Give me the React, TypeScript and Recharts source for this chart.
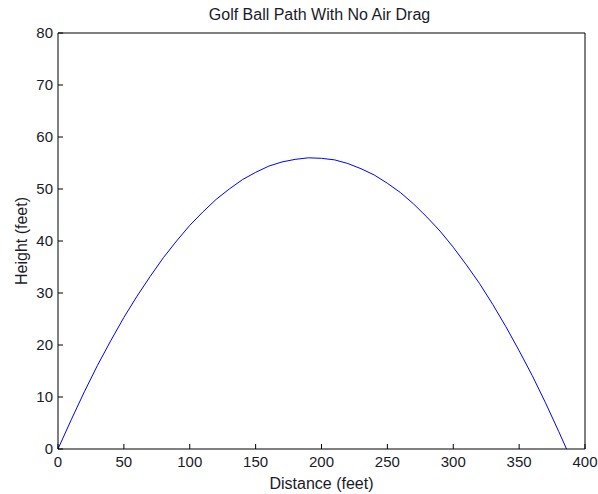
import React from "react";
import { LineChart, Line, XAxis, YAxis, Label } from "recharts";

const distanceFeet = [0, 10, 20, 30, 40, 50, 60, 70, 80, 90, 100, 110, 120, 130, 140, 150, 160, 170, 180, 190, 200, 210, 220, 230, 240, 250, 260, 270, 280, 290, 300, 310, 320, 330, 340, 350, 360, 370, 380, 386];
const heightFeet = [0, 5.6, 11.0, 16.1, 20.8, 25.3, 29.4, 33.2, 36.8, 40.0, 43.0, 45.6, 48.0, 50.0, 51.8, 53.2, 54.4, 55.2, 55.7, 56.0, 55.9, 55.6, 54.9, 53.9, 52.7, 51.1, 49.3, 47.1, 44.6, 41.9, 38.8, 35.4, 31.8, 27.8, 23.5, 18.9, 14.1, 8.9, 3.4, 0];
const xTicks = [0, 50, 100, 150, 200, 250, 300, 350, 400];
const yTicks = [0, 10, 20, 30, 40, 50, 60, 70, 80];

const data = distanceFeet.map((d, i) => ({ d, h: heightFeet[i] }));

const FONT = "Arial, 'Liberation Sans', sans-serif";
const TEXT = "#1a1a2a";
const tickStyle = { fontSize: 15, fill: TEXT, fontFamily: FONT };
const axisLine = { stroke: "#000", strokeWidth: 1 };

export default function App() {
  return (
    <div style={{ position: "absolute", left: 0, top: 0, width: 598, height: 494, background: "#fff" }}>
      <div
        style={{
          position: "absolute",
          left: 0,
          width: 598,
          top: 5.6,
          textAlign: "center",
          paddingLeft: 41,
          boxSizing: "border-box",
          fontFamily: FONT,
          fontSize: 16,
          color: TEXT,
          whiteSpace: "nowrap",
        }}
      >
        Golf Ball Path With No Air Drag
      </div>
      <LineChart
        width={598}
        height={494}
        data={data}
        margin={{ top: 32, right: 12, bottom: 14, left: 18 }}
      >
        <XAxis
          xAxisId="top"
          orientation="top"
          dataKey="d"
          type="number"
          domain={[0, 400]}
          ticks={xTicks}
          height={1}
          tick={false}
          tickSize={-5}
          axisLine={axisLine}
          tickLine={axisLine}
          allowDataOverflow
        />
        <XAxis
          xAxisId="main"
          orientation="bottom"
          dataKey="d"
          type="number"
          domain={[0, 400]}
          ticks={xTicks}
          height={31}
          tickSize={-5}
          tickMargin={12}
          tick={tickStyle}
          axisLine={axisLine}
          tickLine={axisLine}
          allowDataOverflow
        >
          <Label
            value="Distance (feet)"
            position="insideBottom"
            offset={-9}
            style={{ fontSize: 16, fill: TEXT, fontFamily: FONT }}
          />
        </XAxis>
        <YAxis
          yAxisId="right"
          orientation="right"
          type="number"
          domain={[0, 80]}
          ticks={yTicks}
          width={1}
          tick={false}
          tickSize={-5}
          axisLine={axisLine}
          tickLine={axisLine}
          allowDataOverflow
        />
        <YAxis
          yAxisId="main"
          orientation="left"
          type="number"
          domain={[0, 80]}
          ticks={yTicks}
          width={40}
          tickSize={-5}
          tickMargin={10}
          tick={tickStyle}
          axisLine={axisLine}
          tickLine={axisLine}
          allowDataOverflow
        >
          <Label
            value="Height (feet)"
            angle={-90}
            position="insideLeft"
            offset={3}
            style={{ fontSize: 16, fill: TEXT, fontFamily: FONT, textAnchor: "middle" }}
          />
        </YAxis>
        <Line
          xAxisId="top"
          yAxisId="right"
          type="linear"
          dataKey="h"
          stroke="none"
          dot={false}
          activeDot={false}
          isAnimationActive={false}
        />
        <Line
          xAxisId="main"
          yAxisId="main"
          type="linear"
          dataKey="h"
          stroke="#0000ff"
          strokeWidth={1}
          dot={false}
          isAnimationActive={false}
        />
      </LineChart>
    </div>
  );
}
